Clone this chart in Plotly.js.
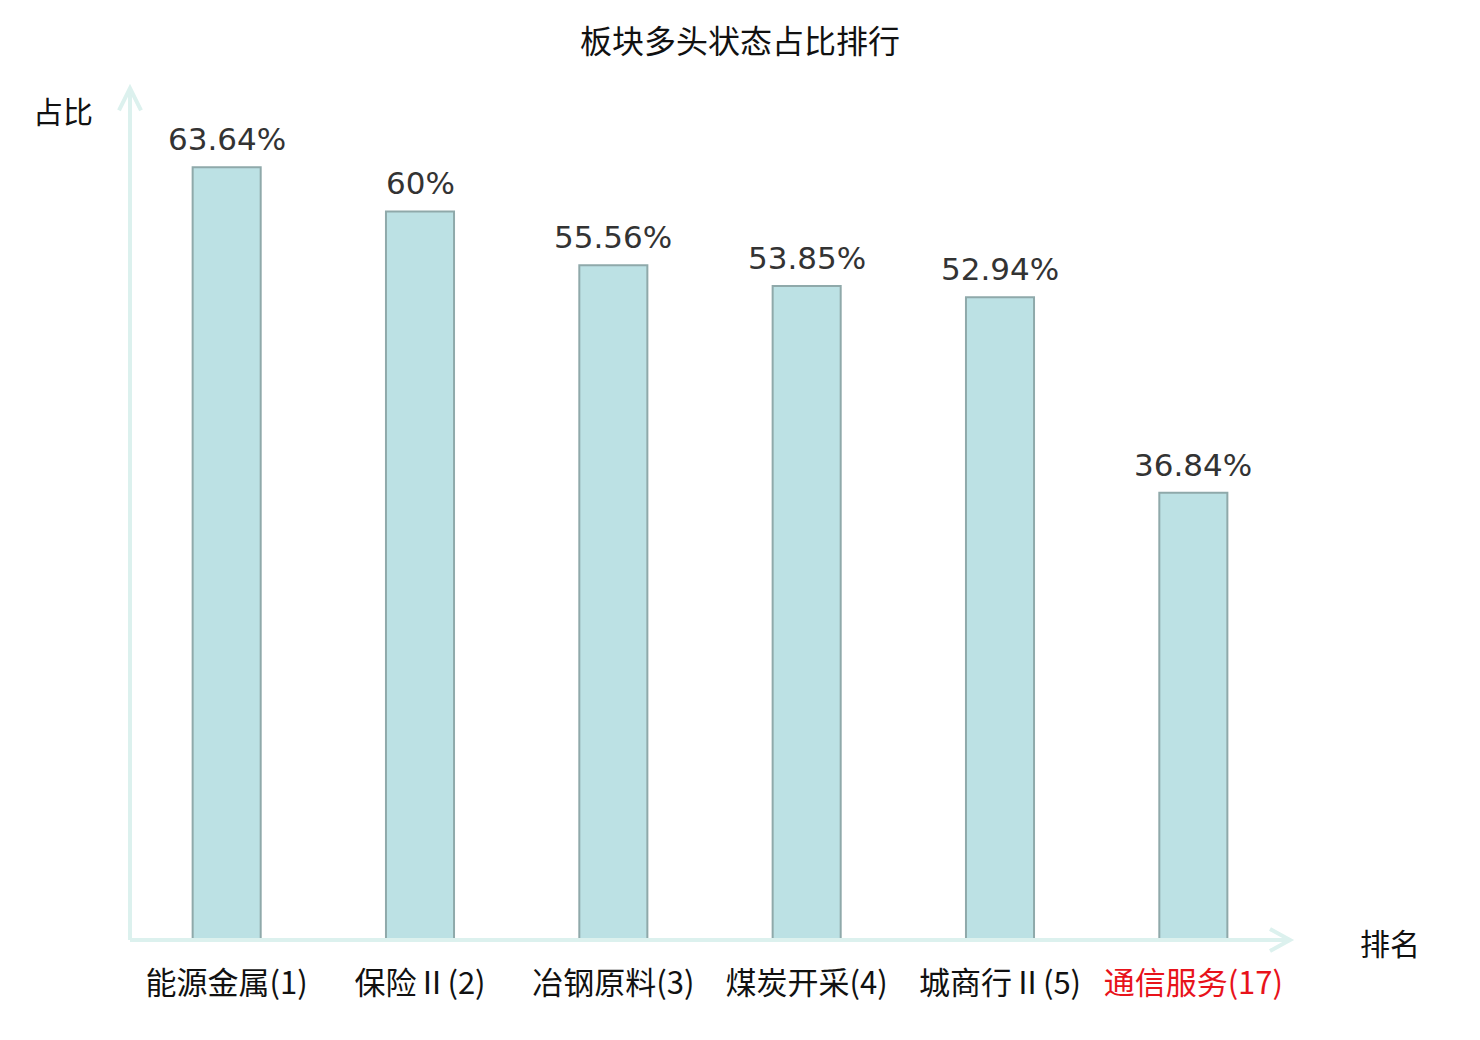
<!DOCTYPE html>
<html>
<head>
<meta charset="utf-8">
<script src="https://cdn.plot.ly/plotly-3.0.1.min.js"></script>
<style>
	html, body {margin:0; padding:0; background:#fff;}
	#myDiv {width:1480px; height:1040px;}
</style>
</head>
<body>
<div id="myDiv"></div>
<script>
// sector names, their rank, and the share of stocks in a bullish state (%)
var sectors = ['能源金属', '保险Ⅱ', '冶钢原料', '煤炭开采', '城商行Ⅱ', '通信服务'];
var ranks = [1, 2, 3, 4, 5, 17];
var shares = [63.64, 60, 55.56, 53.85, 52.94, 36.84];
var highlightRank = 17;

var cjk = '"Noto Sans CJK SC", "Noto Sans", sans-serif';
var axisColor = '#dcf1ee';

let tickText = [];
for (var i in sectors){
	var label = sectors[i] + '(' + ranks[i] + ')';
	if (ranks[i] == highlightRank){
		label = '<span style="color:#e8131b">' + label + '</span>';
	}
	tickText.push(label);
};

let valueLabels = [];
for (var j in sectors){
	valueLabels.push({
		x: sectors[j],
		y: shares[j],
		xref: 'x',
		yref: 'y',
		text: shares[j] + '%',
		showarrow: false,
		yanchor: 'bottom',
		yshift: 8,
		font: {family: '"DejaVu Sans", sans-serif', size: 31, color: '#333333'}
	});
};

// plot area is 1160 x 850 px, arrow sizes below are in paper units of it
var ax = 11 / 1160, ay = 22 / 850;
var bx = 20 / 1160, by = 11 / 850;

var layout = {
	title: {
		text: '板块多头状态占比排行',
		font: {family: cjk, size: 32, color: '#111111'},
		x: 0.5,
		xanchor: 'center',
		y: 1 - 42 / 1040,
		yanchor: 'middle'
	},
	width: 1480,
	height: 1040,
	paper_bgcolor: '#ffffff',
	plot_bgcolor: '#ffffff',
	showlegend: false,
	margin: {l: 130, r: 190, t: 90, b: 100, pad: 0},
	bargap: 0.648,
	xaxis: {
		type: 'category',
		tickvals: sectors,
		ticktext: tickText,
		ticks: '',
		ticklabelstandoff: 22,
		tickfont: {family: cjk, size: 31, color: '#111111'},
		showgrid: false,
		zeroline: false,
		showline: false,
		fixedrange: true
	},
	yaxis: {
		range: [0, 70],
		showticklabels: false,
		showgrid: false,
		zeroline: false,
		showline: false,
		ticks: '',
		fixedrange: true
	},
	shapes: [
		// y axis with arrow
		{type: 'line', xref: 'paper', yref: 'paper', x0: 0, y0: 0, x1: 0, y1: 1.002,
			line: {color: axisColor, width: 4}},
		{type: 'path', xref: 'paper', yref: 'paper',
			path: 'M ' + (-ax) + ' ' + (1.002 - ay) + ' L 0 1.002 L ' + ax + ' ' + (1.002 - ay),
			line: {color: axisColor, width: 4}},
		// x axis with arrow
		{type: 'line', xref: 'paper', yref: 'paper', x0: 0, y0: 0, x1: 1, y1: 0,
			line: {color: axisColor, width: 4}},
		{type: 'path', xref: 'paper', yref: 'paper',
			path: 'M ' + (1 - bx) + ' ' + by + ' L 1 0 L ' + (1 - bx) + ' ' + (-by),
			line: {color: axisColor, width: 4}}
	],
	annotations: valueLabels.concat([
		{
			text: '占比',
			xref: 'paper', yref: 'paper',
			x: (31 - 130) / 1160, xanchor: 'left',
			y: (940 - 110) / 850, yanchor: 'middle',
			showarrow: false,
			font: {family: cjk, size: 30, color: '#111111'}
		},
		{
			text: '排名',
			xref: 'paper', yref: 'paper',
			x: (1358 - 130) / 1160, xanchor: 'left',
			y: (940 - 942) / 850, yanchor: 'middle',
			showarrow: false,
			font: {family: cjk, size: 30, color: '#111111'}
		}
	])
};

var data = [{
	x: sectors,
	y: shares,
	type: 'bar',
	hoverinfo: 'none',
	marker: {color: '#bce1e4', line: {color: '#8fa9aa', width: 2}}
}];

Plotly.newPlot('myDiv', data, layout, {displayModeBar: false, staticPlot: true});
</script>
</body>
</html>
